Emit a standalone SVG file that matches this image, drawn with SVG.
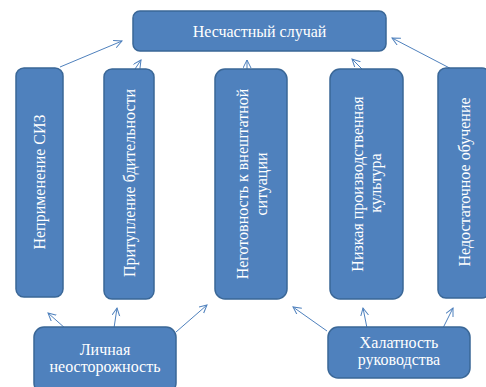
<svg xmlns="http://www.w3.org/2000/svg" width="486" height="387" viewBox="0 0 486 387">
<defs>
<style>
.box{fill:#4F81BD;stroke:#3A6797;stroke-width:1.5}
.t{font-family:"Liberation Serif","Times New Roman",serif;font-size:16px;fill:#FFFFFF;text-anchor:middle}
.c{fill:none;stroke:#4F81BD;stroke-width:1}
</style>
<marker id="ah" markerWidth="10" markerHeight="10" refX="8" refY="4" orient="auto" markerUnits="userSpaceOnUse">
<path d="M0,0 L8,4 L0,8" fill="none" stroke="#4F81BD" stroke-width="1"/>
</marker>
</defs>
<rect width="486" height="387" fill="#FFFFFF"/>
<g id="connectors">
<line class="c" x1="60" y1="67" x2="122" y2="41" marker-end="url(#ah)"/>
<line class="c" x1="135" y1="69" x2="141" y2="60" marker-end="url(#ah)"/>
<line class="c" x1="247" y1="69" x2="247" y2="60" marker-end="url(#ah)"/>
<line class="c" x1="363" y1="70" x2="352" y2="59" marker-end="url(#ah)"/>
<line class="c" x1="463" y1="75" x2="392" y2="38" marker-end="url(#ah)"/>
<line class="c" x1="66" y1="329" x2="48" y2="313" marker-end="url(#ah)"/>
<line class="c" x1="114" y1="328" x2="117" y2="308" marker-end="url(#ah)"/>
<line class="c" x1="176" y1="332" x2="207" y2="305" marker-end="url(#ah)"/>
<line class="c" x1="327" y1="331" x2="293" y2="307" marker-end="url(#ah)"/>
<line class="c" x1="367" y1="328" x2="363" y2="308" marker-end="url(#ah)"/>
<line class="c" x1="443" y1="328" x2="453" y2="308" marker-end="url(#ah)"/>
</g>
<g id="top">
<rect class="box" x="133" y="11" width="253" height="40" rx="7"/>
<text class="t" x="259.5" y="37">Несчастный случай</text>
</g>
<g id="n1">
<rect class="box" x="16" y="68" width="47" height="229" rx="8"/>
<text class="t" transform="translate(45,182) rotate(-90)">Неприменение СИЗ</text>
</g>
<g id="n2">
<rect class="box" x="104" y="69" width="50" height="230" rx="8"/>
<text class="t" transform="translate(135,183) rotate(-90)">Притупление бдительности</text>
</g>
<g id="n3">
<rect class="box" x="215" y="69" width="72" height="230" rx="10"/>
<text class="t" transform="translate(248,184) rotate(-90)">Неготовность к внештатной</text>
<text class="t" transform="translate(267,184) rotate(-90)">ситуации</text>
</g>
<g id="n4">
<rect class="box" x="330" y="69" width="73" height="230" rx="10"/>
<text class="t" transform="translate(363,184) rotate(-90)">Низкая производственная</text>
<text class="t" transform="translate(381,183) rotate(-90)">культура</text>
</g>
<g id="n5">
<rect class="box" x="438" y="68" width="52" height="230" rx="8"/>
<text class="t" transform="translate(470,182) rotate(-90)">Недостаточное обучение</text>
</g>
<g id="b1">
<rect class="box" x="34" y="327" width="142" height="66" rx="10"/>
<text class="t" x="105" y="355">Личная</text>
<text class="t" x="105" y="372">неосторожность</text>
</g>
<g id="b2">
<rect class="box" x="328" y="327" width="142" height="51" rx="10"/>
<text class="t" x="399" y="348">Халатность</text>
<text class="t" x="399" y="365">руководства</text>
</g>
</svg>
